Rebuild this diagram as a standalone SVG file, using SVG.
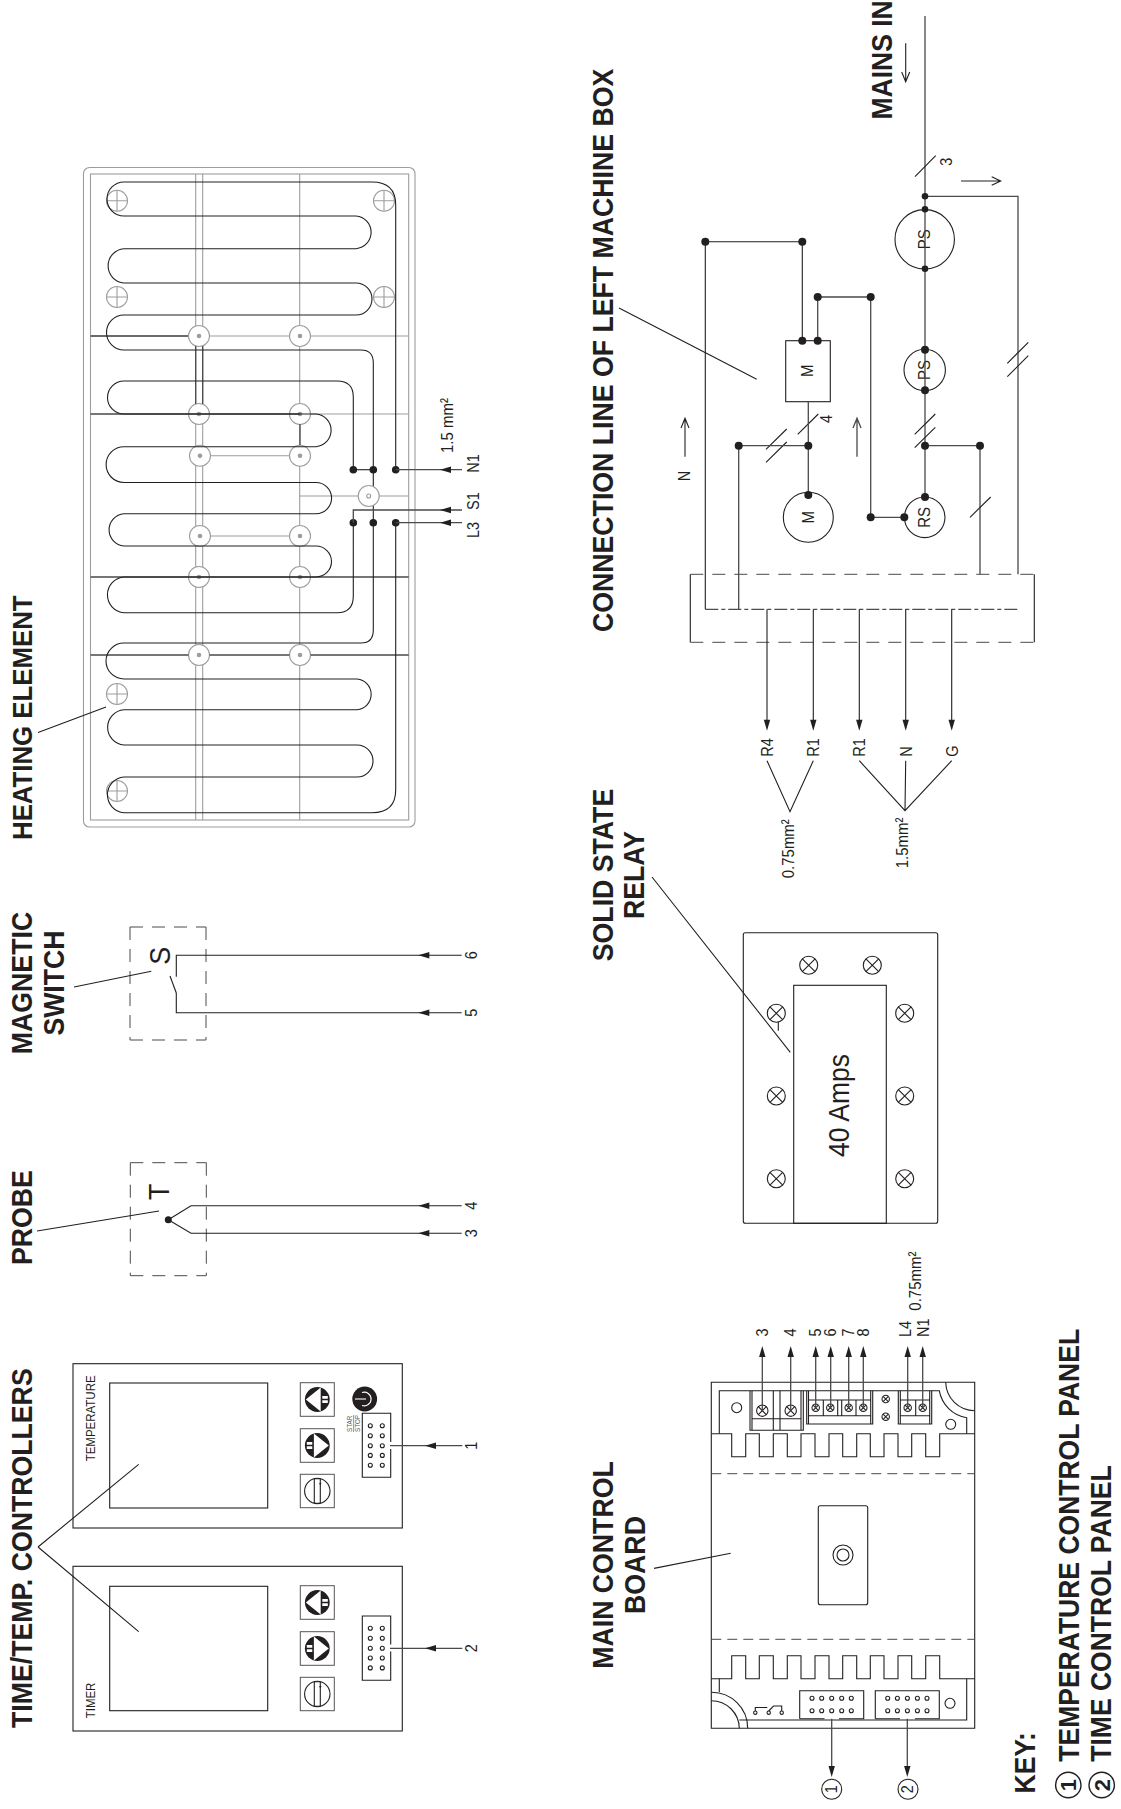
<svg xmlns="http://www.w3.org/2000/svg" xmlns:xlink="http://www.w3.org/1999/xlink" width="1121" height="1809" viewBox="0 0 1121 1809">
<style>
text{font-family:"Liberation Sans",Arial,sans-serif;fill:#231f20}
.t{font-weight:bold;font-size:26.7px}
.k{font-weight:bold;font-size:26.5px}
.l{font-size:14.5px}
.s{font-size:15px}
.m{font-size:27px}
.c{text-anchor:middle}
.i{fill:none;stroke:#231f20;stroke-width:1.1}
.w{fill:none;stroke:#4a4a4c;stroke-width:1.3}
.g{fill:none;stroke:#9c9e9e;stroke-width:1.1}
.r{fill:#fff;stroke:#9c9e9e;stroke-width:1.1}
.d{fill:#231f20}
.gd{fill:#9c9e9e}
.da{fill:none;stroke:#4a4a4c;stroke-width:1;stroke-dasharray:13 9}
.mainsd{fill:none;stroke:#4a4a4c;stroke-width:1;stroke-dasharray:10 6}
.dd{fill:none;stroke:#231f20;stroke-width:1;stroke-dasharray:13 3 4 3}
.b{fill:#fff;stroke:#555;stroke-width:1}
.wh{fill:#fff}
.whs{fill:none;stroke:#fff;stroke-width:1.1}
</style>
<defs>
<path id="aL" class="d" d="M0 0L11 -3.2V3.2Z"/>
<path id="aU" class="d" d="M0 0L-3.2 11H3.2Z"/>
<path id="aD" class="d" d="M0 0L-3.2 -11H3.2Z"/>
<g id="cross"><circle r="10.5" class="g"/><path class="g" d="M-10.5 0H10.5M0 -10.5V10.5"/></g>
<g id="x9"><circle r="9" class="i"/><path class="i" d="M-6.4 -6.4L6.4 6.4M-6.4 6.4L6.4 -6.4"/></g>
<g id="x6"><circle r="5.7" class="i"/><path class="i" d="M-4 -4L4 4M-4 4L4 -4"/></g>
<g id="x4"><circle r="3.7" class="i"/><path class="i" d="M-2.6 -2.6L2.6 2.6M-2.6 2.6L2.6 -2.6"/></g>
<g id="ring"><circle r="10.5" class="r"/><circle r="2.3" class="gd"/></g>
<g id="pin"><circle r="2" class="i"/></g>
<g id="pins10"><use xlink:href="#pin" x="0" y="0"/><use xlink:href="#pin" x="12" y="0"/><use xlink:href="#pin" x="0" y="10"/><use xlink:href="#pin" x="12" y="10"/><use xlink:href="#pin" x="0" y="20"/><use xlink:href="#pin" x="12" y="20"/><use xlink:href="#pin" x="0" y="29.7"/><use xlink:href="#pin" x="12" y="29.7"/><use xlink:href="#pin" x="0" y="39.6"/><use xlink:href="#pin" x="12" y="39.6"/></g>
<g id="pins5"><use xlink:href="#pin" x="0" y="0"/><use xlink:href="#pin" x="9.7" y="0"/><use xlink:href="#pin" x="19.7" y="0"/><use xlink:href="#pin" x="29.7" y="0"/><use xlink:href="#pin" x="39.3" y="0"/><use xlink:href="#pin" x="0" y="12.4"/><use xlink:href="#pin" x="9.7" y="12.4"/><use xlink:href="#pin" x="19.7" y="12.4"/><use xlink:href="#pin" x="29.7" y="12.4"/><use xlink:href="#pin" x="39.3" y="12.4"/></g>
<g id="btnA"><rect x="-17" y="-16.8" width="34" height="33.6" class="b"/><circle r="12.4" class="d"/><path class="wh" d="M-11.5 0L3.4 -12V12Z"/><path class="wh" d="M5 -3.5H10.5V-0.8H5ZM5 0.8H10.5V3.5H5Z"/></g>
<g id="btnB"><rect x="-17" y="-16.8" width="34" height="33.6" class="b"/><circle r="12.4" class="d"/><path class="wh" d="M11.5 0L-3.4 -12V12Z"/><path class="wh" d="M-5 -3.5H-10.5V-0.8H-5ZM-5 0.8H-10.5V3.5H-5Z"/></g>
<g id="knob"><rect x="-17" y="-16.7" width="34" height="33.4" class="b"/><circle r="12.7" class="i"/><path class="i" d="M-3 -12.3V12.3M3 -12.3V12.3M-3 -12.3H3M-3 12.3H3"/><path class="d" d="M3 -5.5L1.8 -8H4.2Z"/></g>
</defs>
<g id="labels-titles">
<text class="t" style="font-size:25.8px" transform="translate(32.3 840) rotate(-90) scale(1 1.08)">HEATING ELEMENT</text>
<text class="t c" transform="translate(32 983) rotate(-90) scale(1 1.08)">MAGNETIC</text>
<text class="t c" transform="translate(63.5 983) rotate(-90) scale(1 1.08)">SWITCH</text>
<text class="t" transform="translate(32 1265) rotate(-90) scale(1 1.08)">PROBE</text>
<text class="t" transform="translate(32 1728) rotate(-90) scale(1 1.08)">TIME/TEMP. CONTROLLERS</text>
<text class="t" transform="translate(613 632) rotate(-90) scale(1 1.08)">CONNECTION LINE OF LEFT MACHINE BOX</text>
<text class="k" transform="translate(891.7 119.5) rotate(-90) scale(1 1.08)">MAINS IN</text>
<text class="t c" transform="translate(613 875) rotate(-90) scale(1 1.08)">SOLID STATE</text>
<text class="t c" transform="translate(644 875) rotate(-90) scale(1 1.08)">RELAY</text>
<text class="t c" transform="translate(613 1565) rotate(-90) scale(1 1.08)">MAIN CONTROL</text>
<text class="t c" transform="translate(645 1565) rotate(-90) scale(1 1.08)">BOARD</text>
<text class="k" transform="translate(1035 1793.5) rotate(-90) scale(1 1.08)">KEY:</text>
<text class="k" transform="translate(1079.3 1761.7) rotate(-90) scale(1 1.08)">TEMPERATURE CONTROL PANEL</text>
<text class="k" transform="translate(1111 1761.7) rotate(-90) scale(1 1.08)">TIME CONTROL PANEL</text>
</g>
<g id="key-1"><circle cx="1068.3" cy="1785" r="12.7" fill="none" stroke="#231f20" stroke-width="1.4"/><text class="c" font-size="22" font-weight="bold" transform="translate(1076 1785) rotate(-90)">1</text></g>
<g id="key-2"><circle cx="1101.7" cy="1785" r="12.7" fill="none" stroke="#231f20" stroke-width="1.4"/><text class="c" font-size="22" font-weight="bold" transform="translate(1109.5 1785) rotate(-90)">2</text></g>

<g id="heating-element">
<rect x="83.5" y="167.5" width="331.5" height="659.5" rx="6" class="g"/>
<rect x="90.5" y="174" width="318.2" height="646" class="g"/>
<path class="g" d="M195.7 174V820M202.7 174V820M299.7 174V820M90.5 336H408.7M299.7 414H408.7M300 496H408.7M210 455.7H290M210 536H290"/>
<use xlink:href="#ring" x="199" y="336"/><use xlink:href="#ring" x="300" y="336"/>
<use xlink:href="#ring" x="199" y="414"/><use xlink:href="#ring" x="300" y="414"/>
<use xlink:href="#ring" x="200" y="455.7"/><use xlink:href="#ring" x="300" y="455.7"/>
<use xlink:href="#ring" x="200" y="536"/><use xlink:href="#ring" x="300" y="536"/>
<use xlink:href="#ring" x="199" y="577"/><use xlink:href="#ring" x="300" y="577"/>
<use xlink:href="#ring" x="199" y="655"/><use xlink:href="#ring" x="300" y="655"/>
<use xlink:href="#cross" x="117" y="200.7"/><use xlink:href="#cross" x="384" y="200.7"/>
<use xlink:href="#cross" x="117" y="297"/><use xlink:href="#cross" x="384" y="297"/>
<use xlink:href="#cross" x="117" y="694"/><use xlink:href="#cross" x="117" y="791"/>
<path class="w" d="M90.5 336H188M90.5 414H300M90.5 577H408.7M90.5 655H188.5M209.5 655H289.5M310.5 655H408.7M195.7 346V404M202.7 346V404M300 424V445"/>
<path class="i" d="M395.7 469.7V205Q395.7 182 372 182H124A17 17 0 0 0 124 216H356A16.4 16.4 0 0 1 356 248.7H124A17.2 17.2 0 0 0 124 283H356A16 16 0 0 1 356 315H124A17.5 17.5 0 0 0 124 350H361Q373.3 350 373.3 363V630Q373.3 643 361 643H124A18 18 0 0 0 124 679H357A15.4 15.4 0 0 1 357 709.7H124A17.7 17.7 0 0 0 124 745H357A16 16 0 0 1 357 777H124A17.9 17.9 0 0 0 124 812.7H372Q395.7 812.7 395.7 790V522.7"/>
<path class="i" d="M353.3 469.7V397Q353.3 381 337 381H124A16.5 16.5 0 0 0 124 414H316A16.4 16.4 0 0 1 316 446.7H124A17.9 17.9 0 0 0 124 482.5H316A15.6 15.6 0 0 1 316 513.7H124A16.2 16.2 0 0 0 124 546H316A15.5 15.5 0 0 1 316 577H124A17.9 17.9 0 0 0 124 612.7H337Q353.3 612.7 353.3 596V522.7"/>
<circle cx="368.7" cy="496" r="10.5" class="r"/><circle cx="368.7" cy="496" r="2" class="g"/>
<path class="i" d="M353.3 469.7H373.3"/>
<circle cx="353.3" cy="469.7" r="3.8" class="d"/><circle cx="373.3" cy="469.7" r="3.8" class="d"/><circle cx="395.7" cy="469.7" r="3.8" class="d"/>
<circle cx="353.3" cy="522.7" r="3.8" class="d"/><circle cx="373.3" cy="522.7" r="3.8" class="d"/><circle cx="395.7" cy="522.7" r="3.8" class="d"/>
<text class="l" transform="translate(479 472.7) rotate(-90) scale(1 1.15)">N1</text>
<text class="l" transform="translate(479 510) rotate(-90) scale(1 1.15)">S1</text>
<text class="l" transform="translate(479 538) rotate(-90) scale(1 1.15)">L3</text>
<text class="s" transform="translate(452.7 453) rotate(-90) scale(1 1.15)">1.5 mm²</text>
</g>

<g id="magnetic-switch">
<path class="da" d="M130 927H206"/><path class="da" d="M206 927V1040"/><path class="da" d="M130 1040H206"/><path class="da" d="M130 927V1040"/>
<text class="m c" transform="translate(170 955.7) rotate(-90) scale(1 1.08)">S</text>
<path class="i" d="M170 976L176.3 993"/>
<text class="l c" transform="translate(477 955.3) rotate(-90) scale(1 1.15)">6</text>
<text class="l c" transform="translate(477 1012.7) rotate(-90) scale(1 1.15)">5</text>
</g>
<g id="probe">
<path class="da" d="M130.3 1162.7H206.3"/><path class="da" d="M206.3 1162.7V1275.7"/><path class="da" d="M130.3 1275.7H206.3"/><path class="da" d="M130.3 1162.7V1275.7"/>
<text class="m c" transform="translate(169.3 1191.7) rotate(-90) scale(1 1.08)">T</text>
<circle cx="168.3" cy="1219.7" r="3.5" class="d"/>
<text class="l c" transform="translate(477 1205.7) rotate(-90) scale(1 1.15)">4</text>
<text class="l c" transform="translate(477 1233.3) rotate(-90) scale(1 1.15)">3</text>
</g>

<g id="temperature-panel">
<rect x="73" y="1363.7" width="329.3" height="164.3" class="i"/>
<rect x="109.7" y="1383" width="158" height="125" class="i"/>
<text font-size="11.5" transform="translate(95 1461.3) rotate(-90) scale(1 1.12)">TEMPERATURE</text>
<use xlink:href="#btnA" x="317.3" y="1399.5"/><use xlink:href="#btnB" x="317.3" y="1445.5"/><use xlink:href="#knob" x="317.3" y="1491"/>
<circle cx="364.7" cy="1399" r="12.4" class="d"/>
<path class="whs" d="M362 1392.6A6.8 6.8 0 1 1 362 1405.4"/><path class="whs" d="M355 1399H366"/>
<text font-size="6.3" style="fill:#58595b" transform="translate(351.7 1432) rotate(-90) scale(1 1.1)">STAR</text>
<text font-size="6.3" style="fill:#58595b" transform="translate(360 1432) rotate(-90) scale(1 1.1)">STOP</text>
<path class="g" d="M353.6 1415V1432"/>
<path class="i" d="M390.7 1442V1413.3H362.3V1477.3H390.7V1449"/>
<use xlink:href="#pins10" x="370.3" y="1425.7"/>
<text class="l c" transform="translate(477 1445.7) rotate(-90) scale(1 1.15)">1</text>
</g>
<g id="timer-panel">
<rect x="73" y="1566.3" width="329.3" height="164.7" class="i"/>
<rect x="109.7" y="1586.3" width="158" height="124.4" class="i"/>
<text font-size="11.5" transform="translate(95 1718.3) rotate(-90) scale(1 1.12)">TIMER</text>
<use xlink:href="#btnA" x="317.3" y="1602.5"/><use xlink:href="#btnB" x="317.3" y="1648.5"/><use xlink:href="#knob" x="317.3" y="1694"/>
<path class="i" d="M390.7 1644.5V1616H362.3V1680.3H390.7V1651.5"/>
<use xlink:href="#pins10" x="370.3" y="1628.3"/>
<text class="l c" transform="translate(477 1648.3) rotate(-90) scale(1 1.15)">2</text>
</g>

<g id="machine-box">
<path class="i" d="M690.3 574.3V642.3M1034.3 574.3V642.3"/>
<path class="da" d="M690.3 574.3H1034.3"/>
<path class="da" d="M690.3 642.3H1034.3"/>
<path class="dd" d="M705.3 609.3H1020"/>
</g>
<g id="motor-M"><circle cx="808.3" cy="517.3" r="25" class="i"/><text class="s c" transform="translate(814 517.3) rotate(-90) scale(1 1.15)">M</text></g>
<g id="starter-M"><rect x="785.7" y="340.7" width="44.6" height="61" class="i"/><text class="s c" transform="translate(813.3 370.7) rotate(-90) scale(1 1.15)">M</text></g>
<g id="ps-1"><circle cx="924.7" cy="239.3" r="29.7" class="i"/><text class="s c" transform="translate(930.3 239.3) rotate(-90) scale(1 1.15)">PS</text></g>
<g id="ps-2"><circle cx="924.7" cy="370" r="20.7" class="i"/><text class="s c" transform="translate(930.3 370) rotate(-90) scale(1 1.15)">PS</text></g>
<g id="rs"><circle cx="924.7" cy="517.3" r="20.3" class="i"/><text class="s c" transform="translate(930.3 517.3) rotate(-90) scale(1 1.15)">RS</text></g>
<g id="mains-labels">
<text class="l c" transform="translate(951.7 161.7) rotate(-90) scale(1 1.15)">3</text>
<text class="l c" transform="translate(831.7 419) rotate(-90) scale(1 1.15)">4</text>
<text class="l c" transform="translate(690 476) rotate(-90) scale(1 1.15)">N</text>
<text class="l" transform="translate(773 756.7) rotate(-90) scale(1 1.15)">R4</text>
<text class="l" transform="translate(819.3 756.7) rotate(-90) scale(1 1.15)">R1</text>
<text class="l" transform="translate(865.3 756.7) rotate(-90) scale(1 1.15)">R1</text>
<text class="l" transform="translate(911.5 756.7) rotate(-90) scale(1 1.15)">N</text>
<text class="l" transform="translate(957.5 756.7) rotate(-90) scale(1 1.15)">G</text>
<text class="s" transform="translate(794 878.3) rotate(-90) scale(1 1.15)">0.75mm²</text>
<text class="s" transform="translate(908.3 868.3) rotate(-90) scale(1 1.15)">1.5mm²</text>
</g>

<g id="solid-state-relay">
<rect x="743.3" y="932.7" width="194.4" height="290.6" rx="2" class="i"/>
<rect x="793.7" y="985.3" width="92.6" height="238" class="i"/>
<use xlink:href="#x9" x="808.7" y="965.3"/><use xlink:href="#x9" x="872.3" y="965.3"/>
<use xlink:href="#x9" x="776.3" y="1013.3"/><use xlink:href="#x9" x="776.3" y="1096"/><use xlink:href="#x9" x="776.3" y="1178.7"/>
<use xlink:href="#x9" x="904.7" y="1013.3"/><use xlink:href="#x9" x="904.7" y="1096"/><use xlink:href="#x9" x="904.7" y="1178.7"/>
<path class="i" d="M778.3 1021.7V1030.7"/>
<text font-size="26.5" transform="translate(849.3 1157) rotate(-90) scale(1 1.08)">40 Amps</text>
</g>

<g id="main-control-board">
<path class="i" d="M711.3 1382.3H974.7V1728.3H711.3Z"/>
<path class="mainsd" d="M711.3 1473.7H974.7"/><path class="mainsd" d="M711.3 1639.3H974.7"/>
<path class="i" d="M719.3 1433.7V1390.7H939.3A33 33 0 0 0 966.7 1417.7V1433.7"/>
<path class="i" d="M945.7 1382.3A29 29 0 0 0 974.7 1410.7"/>
<path class="i" d="M719.3 1678.7V1692M739.3 1720H966.7V1678.7"/>
<path class="i" d="M711.3 1692.3A36 36 0 0 1 747.7 1728.3M711.3 1700.7A28 28 0 0 1 739.3 1728.3"/>
<path class="i" d="M711.3 1433.7H731.7V1456.7H745.7V1433.7H759.3V1456.7H773.3V1433.7H787.3V1456.7H801V1433.7H815V1456.7H829V1433.7H842.7V1456.7H856.7V1433.7H870.3V1456.7H884V1433.7H898V1456.7H911.7V1433.7H925.7V1456.7H939.7V1433.7H974.7"/>
<path class="i" d="M711.3 1678.7H731.7V1655.7H745.7V1678.7H759.3V1655.7H773.3V1678.7H787.3V1655.7H801V1678.7H815V1655.7H829V1678.7H842.7V1655.7H856.7V1678.7H870.3V1655.7H884V1678.7H898V1655.7H911.7V1678.7H925.7V1655.7H939.7V1678.7H974.7"/>
<path class="i" d="M750 1390.7V1430.3H803.3V1390.7M752 1390.7V1430.3M773.3 1390.7V1430.3M780 1390.7V1430.3M801 1390.7V1430.3M752 1418.7H801"/>
<path class="i" d="M806.7 1390.7V1424H872.7V1390.7M808.5 1390.7V1424M823.3 1400V1415.7M837.7 1400V1415.7M841.7 1400V1415.7M856 1400V1415.7M870.7 1390.7V1424M808.5 1400H870.7M808.5 1415.7H870.7"/>
<path class="i" d="M898.3 1390.7V1424H931.7V1390.7M900.3 1390.7V1424M915.7 1400V1415.7M929.7 1390.7V1424M900.3 1400H929.7M900.3 1415.7H929.7"/>
<use xlink:href="#x6" x="762.3" y="1410.7"/><use xlink:href="#x6" x="790.7" y="1410.7"/>
<use xlink:href="#x4" x="815.7" y="1407.7"/><use xlink:href="#x4" x="830.3" y="1407.7"/><use xlink:href="#x4" x="848.7" y="1407.7"/><use xlink:href="#x4" x="863.3" y="1407.7"/>
<use xlink:href="#x4" x="907.7" y="1407.7"/><use xlink:href="#x4" x="922.7" y="1407.7"/>
<use xlink:href="#x4" x="885.7" y="1399"/><use xlink:href="#x4" x="885.7" y="1416.7"/>
<circle cx="736.7" cy="1407.7" r="5" class="i"/><circle cx="950.7" cy="1424.3" r="5" class="i"/><circle cx="950" cy="1703.3" r="5" class="i"/>
<rect x="818.3" y="1505.7" width="49.4" height="99" rx="2" class="i"/>
<circle cx="843" cy="1555" r="10" class="i"/><circle cx="843" cy="1555" r="6" class="i"/>
<path class="i" d="M799.7 1718.7V1690.7H863.7V1718.7H839M824.5 1718.7H799.7M875.3 1718.7V1690.7H939.3V1718.7H915M900 1718.7H875.3"/>
<use xlink:href="#pins5" x="812" y="1698.3"/><use xlink:href="#pins5" x="887.7" y="1698.3"/>
<path class="i" d="M755.3 1711V1707.5H767.3M768.7 1711L773.5 1706H781.7V1711"/>
<circle cx="755.3" cy="1712.7" r="1.7" class="i"/><circle cx="768.7" cy="1712.7" r="1.7" class="i"/><circle cx="781.7" cy="1712.7" r="1.7" class="i"/>
<text class="l c" transform="translate(767.8 1332.5) rotate(-90) scale(1 1.15)">3</text>
<text class="l c" transform="translate(796.2 1332.5) rotate(-90) scale(1 1.15)">4</text>
<text class="l c" transform="translate(821.2 1332.5) rotate(-90) scale(1 1.15)">5</text>
<text class="l c" transform="translate(836.2 1332.5) rotate(-90) scale(1 1.15)">6</text>
<text class="l c" transform="translate(854.2 1332.5) rotate(-90) scale(1 1.15)">7</text>
<text class="l c" transform="translate(868.8 1332.5) rotate(-90) scale(1 1.15)">8</text>
<text class="l" transform="translate(911 1337) rotate(-90) scale(1 1.15)">L4</text>
<text class="l" transform="translate(929 1337) rotate(-90) scale(1 1.15)">N1</text>
<text class="s" transform="translate(920.7 1310.7) rotate(-90) scale(1 1.15)">0.75mm²</text>
</g>
<g id="ref-1"><circle cx="831.7" cy="1789.3" r="10" class="i"/><text class="l c" transform="translate(837 1789.3) rotate(-90) scale(1 1.15)">1</text></g>
<g id="ref-2"><circle cx="908" cy="1789.3" r="10" class="i"/><text class="l c" transform="translate(913.3 1789.3) rotate(-90) scale(1 1.15)">2</text></g>

<g id="connectors">
<g id="leaders">
<path class="i" d="M106 707L38 732.6M151.3 971.3L74 987M159 1211L37 1231M38 1547L138.7 1464.3M38 1547L138.7 1631.7M756.7 379.3L619 308M790.3 1052.3L652 877M730.7 1553.3L654 1568.4"/>
</g>
<g id="heating-wires">
<path class="w" d="M395.7 469.7H462M353.3 522.7V510H462M395.7 522.7H462"/>
<use xlink:href="#aL" x="440" y="469.7"/><use xlink:href="#aL" x="440" y="510"/><use xlink:href="#aL" x="440" y="522.7"/>
</g>
<g id="sensor-wires">
<path class="i" d="M461.7 955.3H176.3V976.7M176.3 993V1012.7H461.7M168.3 1219.7L191 1205.7H461.7M168.3 1219.7L191 1233.3H461.7"/>
<use xlink:href="#aL" x="418.3" y="955.3"/><use xlink:href="#aL" x="418.3" y="1012.7"/><use xlink:href="#aL" x="418.3" y="1205.7"/><use xlink:href="#aL" x="418.3" y="1233.3"/>
</g>
<g id="panel-wires">
<path class="w" d="M390 1445.7H462.3M390 1648.3H462.3"/>
<use xlink:href="#aL" x="425" y="1445.7"/><use xlink:href="#aL" x="425" y="1648.3"/>
</g>
<g id="machine-wires">
<path class="w" d="M925 16V445.7M925 196.3H1018V574.3M925 445.7V497M925 445.7H980V574.3"/>
<path class="i" d="M915 176.7L935.7 155.7M1007.3 363.3L1028.3 342.3M1007.3 376.7L1028.3 355.7M914.7 434.3L935.3 414M914.7 447.7L935.3 427.3M970 517.3L990.7 497M797.7 434.3L818.3 414M766 449.3L786.7 429M766 462.3L786.7 442"/>
<path class="i" d="M905.7 43.3V81.7M901.7 72L905.7 81.7L909.7 72M961 181H1000.7M991.7 176.7L1000.7 181L991.7 185.3"/>
<path class="i" d="M685 456.7V418.3M681 428L685 418.3L689 428"/>
<path class="w" d="M857 456.7V418.3M853 428L857 418.3L861 428"/>
<path class="w" d="M870.7 517.3V297H817.7V340.7M870.7 517.3H904.3"/>
<path class="i" d="M802.3 340.7V241.7H705.3V609.3"/>
<path class="w" d="M808.3 401.7V495M808.3 445.7H738.7V609.3"/>
<g class="d">
<circle cx="925" cy="196.3" r="3.3"/><circle cx="925" cy="209.3" r="3.3"/><circle cx="925" cy="268.7" r="3.3"/>
<circle cx="925" cy="349.7" r="4"/><circle cx="925" cy="390.3" r="4"/><circle cx="925" cy="445.7" r="4"/><circle cx="925" cy="497" r="4"/>
<circle cx="980" cy="445.7" r="4"/><circle cx="904.3" cy="517.3" r="4"/><circle cx="870.7" cy="517.3" r="4"/>
<circle cx="870.7" cy="297" r="4"/><circle cx="817.7" cy="297" r="4"/><circle cx="817.7" cy="340.7" r="4"/><circle cx="802.3" cy="340.7" r="4"/>
<circle cx="802.3" cy="241.7" r="4"/><circle cx="705.3" cy="241.7" r="4"/>
<circle cx="808.3" cy="445.7" r="4"/><circle cx="808.3" cy="495" r="4"/><circle cx="738.7" cy="445.7" r="4"/>
</g>
<path class="i" d="M767 609.3V725M813.3 609.3V725M859.3 609.3V725M905.7 609.3V725M951.7 609.3V725"/>
<use xlink:href="#aD" x="767" y="730.7"/><use xlink:href="#aD" x="813.3" y="730.7"/><use xlink:href="#aD" x="859.3" y="730.7"/><use xlink:href="#aD" x="905.7" y="730.7"/><use xlink:href="#aD" x="951.7" y="730.7"/>
<path class="i" d="M767 760.7L790 811.7L813.3 760.7M859.3 760.7L905 810.7L951.7 760.7M905.7 760.7L905 810.7"/>
</g>
<g id="board-wires">
<path class="w" d="M762.3 1410.7V1352M790.7 1410.7V1352M815.7 1407.7V1352M830.7 1407.7V1352M848.7 1407.7V1352M863.3 1407.7V1352M907.7 1407.7V1352M922.7 1407.7V1352M831.7 1718.7V1770M907.3 1718.7V1770"/>
<use xlink:href="#aU" x="762.3" y="1346"/><use xlink:href="#aU" x="790.7" y="1346"/><use xlink:href="#aU" x="815.7" y="1346"/><use xlink:href="#aU" x="830.7" y="1346"/><use xlink:href="#aU" x="848.7" y="1346"/><use xlink:href="#aU" x="863.3" y="1346"/><use xlink:href="#aU" x="907.7" y="1346"/><use xlink:href="#aU" x="922.7" y="1346"/>
<use xlink:href="#aD" x="831.7" y="1777"/><use xlink:href="#aD" x="907.3" y="1777"/>
</g>
</g>
</svg>
